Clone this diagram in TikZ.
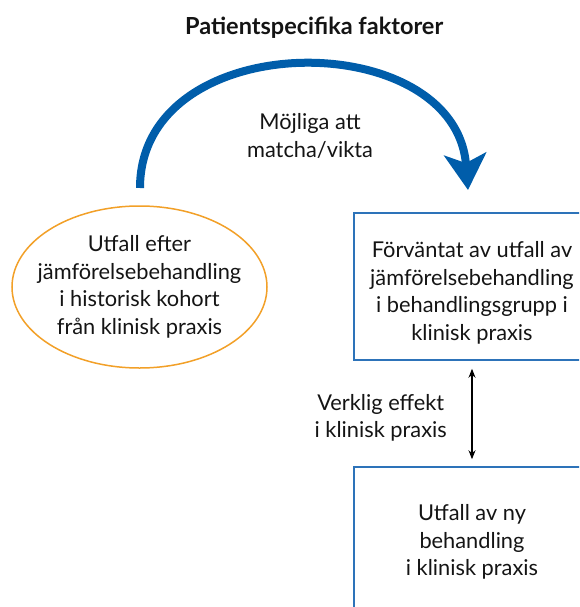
\documentclass[tikz,border=0pt]{standalone}
\usepackage{fontspec}
\setmainfont{Lato}
\usetikzlibrary{arrows.meta,shapes,positioning}
\definecolor{arcBlue}{RGB}{0,93,170}
\definecolor{boxBlue}{RGB}{45,115,185}
\definecolor{ovalOrange}{RGB}{242,160,40}
\definecolor{txtGrey}{RGB}{20,20,20}
\tikzstyle{stdText} = [align=center, text=txtGrey, inner sep=0pt, font=\fontsize{21.8}{27.5}\selectfont]
\tikzstyle{stdBox} = [stdText, shape=rectangle, draw=boxBlue, line width=1.5pt, minimum width=236pt, minimum height=147pt]
\tikzstyle{oval} = [draw=ovalOrange, line width=1.5pt]
\tikzstyle{bigArrow} = [-{Stealth[length=36pt, width=42pt, inset=9pt]}, color=arcBlue, line width=8pt]
\tikzstyle{thinArrow} = [{Stealth[length=9pt, width=7pt]}-{Stealth[length=9pt, width=7pt]}, line width=1.1pt]

\begin{document}
\begin{tikzpicture}[x=1pt, y=-1pt]
	\useasboundingbox (0,0) rectangle (579,607);
	\clip (0,0) rectangle (579,607);
					\node (title) at (317,28) [stdText, font=\bfseries\fontsize{23.5}{27}\selectfont] {
						Patientspecifika faktorer
					};
					\node (histText) at (139.5,287) [stdText] {
						Utfall efter\\ jämförelsebehandling\\ i historisk kohort\\ från klinisk praxis
					};
					\draw[oval] (histText.center) ellipse [x radius=127.5pt, y radius=81pt];
					\node (expBox) at (472,286.5) [stdBox] {
						\rule{0pt}{29pt}Förväntat av utfall av\\ jämförelsebehandling\\ i behandlingsgrupp i\\ klinisk praxis
					};
					\node (newBox) at (472,542) [stdBox, minimum height=150pt] {
						Utfall av ny\\ behandling\\ i klinisk praxis
					};
					\node (matchText) at (310,136) [stdText] {
						Möjliga att\\ matcha/vikta
					};
					\coordinate (arcStart) at (140,188);
					\coordinate (arcEnd) at (468,190);
					\draw[bigArrow] (arcStart) .. controls (140,25) and (455,25) .. (arcEnd);
					\draw[thinArrow] ([yshift=-8pt]expBox.south) -- ([yshift=7pt]newBox.north) coordinate[midway] (effMid);
					\node (effText) [stdText, left = 25pt of effMid, yshift=-4pt] {
						Verklig effekt\\ i klinisk praxis
					};
\end{tikzpicture}
\end{document}
